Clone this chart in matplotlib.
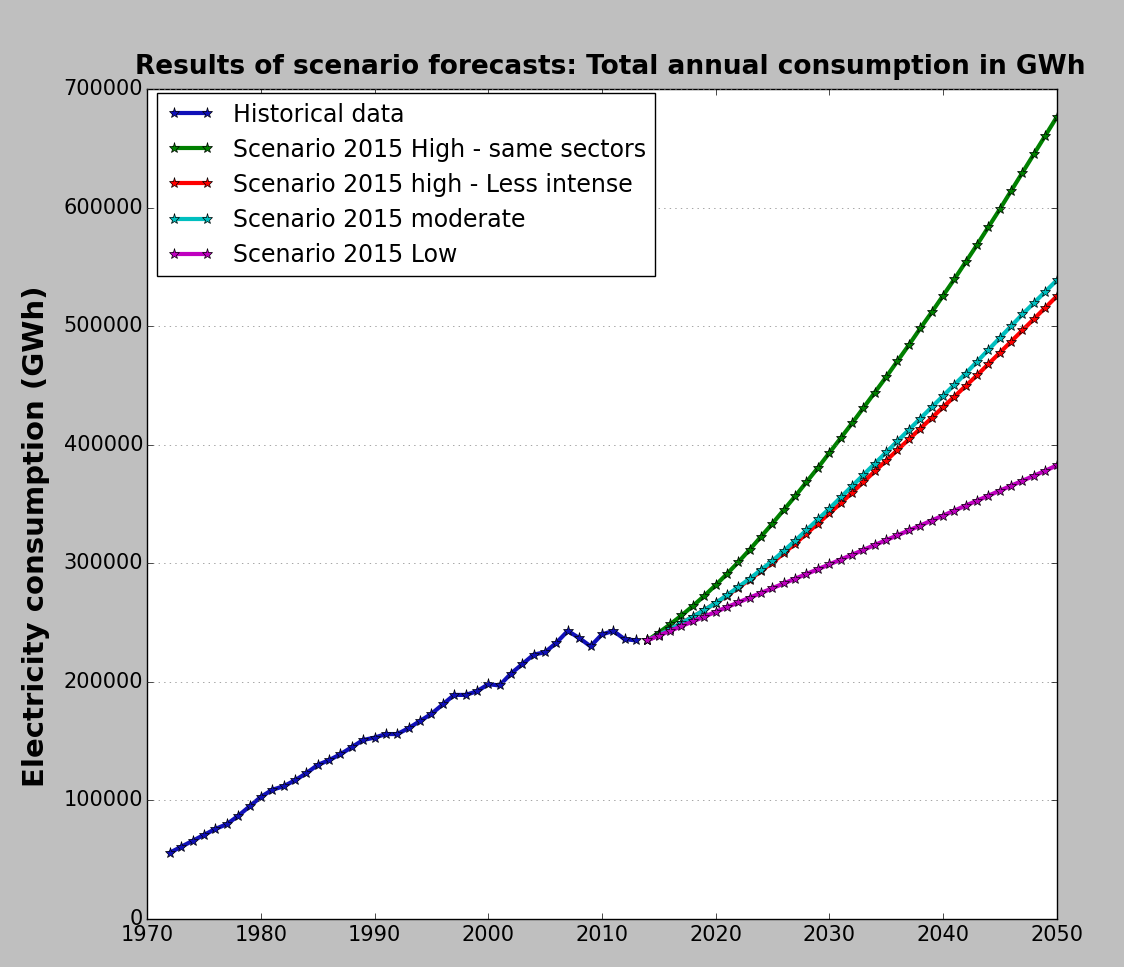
import matplotlib
matplotlib.use('Agg')
import matplotlib.pyplot as plt

plt.style.use('classic')

# historical data
hist_years = list(range(1972, 2014))
hist_values = [56000, 61000, 66000, 71000, 76000, 80000, 87000, 95000, 103000, 109000,
               112000, 117000, 123000, 130000, 134000, 139000, 145000, 151000, 153000, 156000,
               156000, 161000, 167000, 173000, 181000, 189000, 189000, 192000, 198000, 197000,
               207000, 215000, 223000, 225000, 233000, 243000, 237000, 230000, 240000, 243000,
               236000, 235000]

# scenario forecasts 2014-2050
scen_years = list(range(2014, 2051))
high_same = [235000, 241500, 248500, 256000, 264000, 272500, 281500, 291000, 301000, 311500,
             322500, 333500, 345000, 356500, 368500, 380500, 393000, 405500, 418000, 431000,
             444000, 457000, 470500, 484000, 498000, 511500, 525500, 539500, 554000, 568500,
             583500, 598500, 614000, 629500, 645000, 660500, 676000]
high_less = [235000, 239500, 244500, 249500, 255000, 260500, 266500, 272500, 279500, 286000,
             293500, 300500, 308500, 316500, 325000, 333500, 342000, 350500, 359500, 368500,
             377500, 386500, 395500, 404500, 413500, 422500, 431500, 440500, 449500, 458500,
             468000, 477500, 487000, 496500, 506000, 515500, 525000]
moderate = [235000, 239500, 244500, 249500, 255000, 260500, 266500, 273000, 280000, 287000,
            294500, 302000, 310500, 319000, 328000, 337000, 346000, 355500, 365000, 374500,
            384000, 393500, 403000, 412500, 422000, 431500, 441000, 450500, 460000, 470000,
            480000, 490000, 500000, 510000, 519500, 529000, 538500]
low = [235000, 239000, 243000, 247000, 251000, 255000, 259000, 263000, 267000, 271000,
       275000, 279000, 283000, 287000, 291000, 295000, 299000, 303100, 307200, 311300,
       315400, 319500, 323600, 327700, 331800, 336000, 340200, 344400, 348600, 352800,
       357000, 361200, 365400, 369600, 373800, 378000, 382500]

fig = plt.figure(figsize=(11.24, 9.67), dpi=100)
ax = fig.add_axes([0.131, 0.0496, 0.809, 0.8584])

kw = dict(linewidth=3, marker='*', markersize=8, markeredgecolor='k')
ax.plot(hist_years, hist_values, color='#1010b8', label='Historical data', **kw)
ax.plot(scen_years, high_same, color='g', label='Scenario 2015 High - same sectors', **kw)
ax.plot(scen_years, high_less, color='r', label='Scenario 2015 high - Less intense', **kw)
ax.plot(scen_years, moderate, color='c', label='Scenario 2015 moderate', **kw)
ax.plot(scen_years, low, color='m', label='Scenario 2015 Low', **kw)

ax.set_xlim(1970, 2050)
ax.set_ylim(0, 700000)
ax.ticklabel_format(useOffset=False, style='plain')
ax.yaxis.grid(True, linestyle=':', color='gray')
ax.xaxis.grid(False)
ax.tick_params(axis='x', labelsize=15)
ax.tick_params(axis='y', labelsize=15, pad=3)

ax.set_title('Results of scenario forecasts: Total annual consumption in GWh',
             fontsize=19, fontweight='bold', x=0.509, y=1.0, pad=11)
ax.set_ylabel('Electricity consumption (GWh)', fontsize=21, fontweight='bold')
ax.yaxis.set_label_coords(-0.107, 0.461)

ax.legend(loc='upper left', bbox_to_anchor=(0.011, 0.995), borderaxespad=0,
          fontsize=17, numpoints=2, labelspacing=0.47, handlelength=2.0)

plt.savefig('out.png', dpi=100, facecolor=fig.get_facecolor())
